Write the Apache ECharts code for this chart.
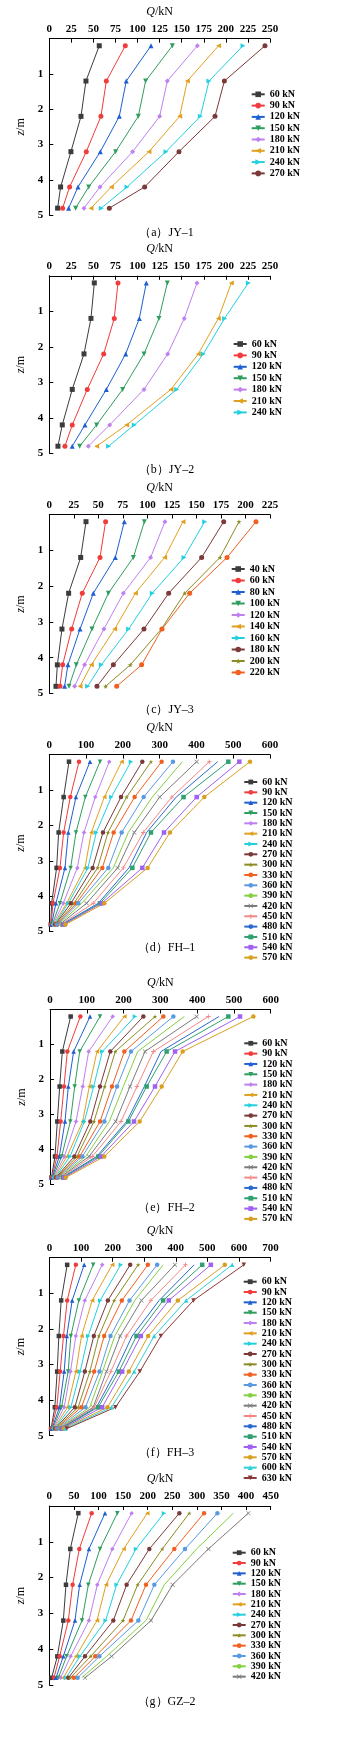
<!DOCTYPE html>
<html><head><meta charset="utf-8">
<script src="https://cdn.jsdelivr.net/npm/echarts@6/dist/echarts.min.js"></script>
<style>html,body{margin:0;padding:0;background:#fff}#c{width:340px;height:1756px}</style>
</head><body><div id="c"></div>
<script>
// depth of measuring points (m)
const depths = [0.2, 1.2, 2.2, 3.2, 4.2, 4.8];

// (a) JY-1
const loadsA = [60, 90, 120, 150, 180, 210, 240, 270];
const valsA = [
  [56.6, 41.5, 35.9, 24.5, 12.8, 9.4],
  [86.1, 64.6, 58.5, 41.9, 23.0, 15.1],
  [115.2, 87.2, 79.3, 57.8, 32.5, 21.9],
  [139.4, 109.1, 100.8, 75.1, 44.6, 29.8],
  [167.7, 133.7, 125.0, 94.4, 57.4, 39.3],
  [191.8, 156.3, 147.7, 112.9, 70.2, 47.2],
  [219.4, 180.9, 171.1, 132.2, 88.0, 58.9],
  [244.3, 198.3, 187.7, 146.9, 108.0, 68.0]
];
// (b) JY-2
const loadsB = [60, 90, 120, 150, 180, 210, 240];
const valsB = [
  [51.0, 47.2, 39.3, 26.0, 14.7, 9.8],
  [77.8, 73.6, 61.6, 43.0, 26.0, 17.7],
  [109.9, 102.0, 86.5, 64.6, 40.4, 26.0],
  [133.7, 124.2, 107.3, 83.1, 53.6, 34.4],
  [167.3, 152.9, 134.1, 107.3, 68.4, 44.2],
  [206.2, 191.5, 168.8, 137.8, 87.6, 53.6],
  [225.5, 198.6, 174.5, 144.3, 96.3, 67.2]
];
// (c) JY-3
const loadsC = [40, 60, 80, 100, 120, 140, 160, 180, 200, 220];
const valsC = [
  [37.4, 32.0, 19.7, 12.9, 8.2, 6.8],
  [57.4, 51.7, 33.6, 22.8, 13.6, 10.9],
  [76.5, 67.3, 44.9, 31.3, 19.0, 15.6],
  [96.9, 85.7, 60.2, 43.5, 27.5, 20.1],
  [117.9, 103.3, 75.5, 55.7, 36.0, 25.8],
  [136.3, 117.6, 87.7, 66.6, 42.8, 31.3],
  [158.4, 137.3, 105.0, 80.9, 53.0, 39.1],
  [177.8, 155.3, 121.7, 96.5, 65.3, 48.6],
  [193.4, 174.0, 138.0, 114.2, 82.6, 57.4],
  [210.7, 181.2, 143.1, 114.9, 94.1, 68.7]
];
// (d) FH-1
const loadsD = [60, 90, 120, 150, 180, 210, 240, 270, 300, 330, 360, 390, 420, 450, 480, 510, 540, 570];
const valsD = [
  [53.5, 39.0, 25.4, 19.9, 6.3, 4],
  [80.7, 57.1, 39.0, 29.0, 10.0, 5],
  [110.6, 72.5, 51.7, 42.6, 18.1, 6],
  [137.8, 97.9, 72.5, 58.0, 29.0, 8],
  [163.0, 125.0, 94.3, 76.1, 38.0, 10],
  [196.7, 149.5, 114.2, 97.0, 47.1, 12],
  [222.0, 168.6, 127.8, 105.1, 51.7, 14],
  [252.9, 194.9, 145.9, 117.8, 58.9, 16],
  [276.4, 210.3, 159.5, 131.4, 67.0, 18],
  [305.4, 232.0, 174.9, 144.1, 73.4, 20],
  [336.2, 256.5, 196.7, 160.4, 78.8, 22],
  [361.6, 280.0, 214.8, 174.0, 88.0, 25],
  [400.6, 300.0, 231.1, 185.8, 101.5, 28],
  [435.0, 333.0, 255.6, 201.2, 119.6, 31],
  [457.7, 345.0, 264.6, 216.6, 133.2, 34],
  [486.7, 365.0, 276.4, 225.7, 137.8, 37],
  [516.6, 400.6, 311.8, 252.9, 142.3, 40],
  [545.6, 421.4, 328.1, 267.4, 149.5, 44]
];
// (e) FH-2
const loadsE = [60, 90, 120, 150, 180, 210, 240, 270, 300, 330, 360, 390, 420, 450, 480, 510, 540, 570];
const valsE = [
  [56.2, 33.5, 26.3, 19.9, 13.6, 4],
  [82.5, 47.1, 38.1, 29.0, 19.0, 5],
  [108.8, 64.3, 49.8, 40.8, 25.4, 6],
  [136.0, 80.7, 67.1, 55.3, 31.7, 8],
  [170.4, 105.1, 88.8, 70.7, 39.0, 10],
  [202.1, 127.8, 106.9, 88.8, 46.2, 12],
  [231.1, 142.3, 118.7, 93.4, 54.4, 14],
  [253.8, 164.0, 135.9, 109.7, 66.2, 16],
  [285.5, 177.6, 148.6, 119.6, 73.4, 18],
  [308.1, 202.1, 168.6, 136.0, 80.7, 20],
  [335.3, 220.2, 182.2, 147.7, 87.9, 22],
  [365.2, 238.4, 199.4, 161.3, 97.0, 24],
  [398.8, 258.3, 217.5, 178.5, 106.0, 27],
  [430.5, 281.0, 236.5, 193.0, 115.1, 30],
  [459.5, 301.8, 256.5, 208.4, 126.9, 33],
  [484.9, 317.2, 262.8, 213.0, 131.4, 36],
  [516.6, 339.9, 285.5, 228.4, 138.7, 39],
  [552.8, 360.7, 303.6, 243.8, 147.7, 43]
];
// (f) FH-3
const loadsF = [60, 90, 120, 150, 180, 210, 240, 270, 300, 330, 360, 390, 420, 450, 480, 510, 540, 570, 600, 630];
const valsF = [
  [56.0, 37.0, 29.6, 24.3, 16.9, 5],
  [83.4, 56.0, 44.3, 33.8, 23.2, 6],
  [109.8, 71.8, 54.9, 46.5, 31.7, 8],
  [138.3, 92.9, 67.6, 59.1, 38.0, 10],
  [166.8, 111.9, 83.4, 66.5, 46.5, 12],
  [198.5, 135.1, 101.4, 83.4, 57.0, 14],
  [225.9, 160.5, 122.5, 97.1, 67.6, 16],
  [255.5, 184.8, 140.4, 111.9, 80.2, 18],
  [280.8, 204.8, 156.3, 127.8, 90.8, 20],
  [311.5, 229.1, 173.1, 141.5, 101.4, 22],
  [341.0, 253.4, 193.2, 158.4, 114.0, 25],
  [360.0, 270.3, 206.9, 167.9, 127.8, 27],
  [397.0, 291.4, 223.8, 180.5, 138.3, 30],
  [430.8, 321.0, 243.9, 194.3, 141.5, 32],
  [458.2, 347.4, 261.8, 209.0, 148.9, 35],
  [483.6, 360.0, 275.6, 219.6, 154.1, 38],
  [511.0, 378.0, 289.3, 230.2, 166.8, 41],
  [555.3, 406.5, 312.5, 251.3, 183.7, 45],
  [578.6, 432.9, 331.5, 268.2, 196.4, 50],
  [615.5, 456.1, 352.6, 286.1, 209.0, 55]
];
// (g) GZ-2
const loadsG = [60, 90, 120, 150, 180, 210, 240, 270, 300, 330, 360, 390, 420];
const valsG = [
  [59.0, 42.7, 33.9, 28.5, 16.3, 4.7],
  [86.1, 61.0, 47.4, 38.6, 21.0, 9.5],
  [113.2, 80.6, 61.7, 52.2, 28.5, 13.6],
  [138.3, 103.0, 79.3, 66.4, 35.2, 18.3],
  [167.4, 128.1, 97.6, 80.6, 43.4, 23.0],
  [199.2, 151.1, 115.2, 96.9, 54.2, 28.5],
  [233.1, 176.2, 136.9, 114.5, 62.3, 33.9],
  [264.3, 203.3, 157.2, 130.1, 72.5, 38.6],
  [284.6, 229.7, 179.6, 149.8, 84.0, 42.7],
  [314.5, 254.1, 196.5, 166.0, 93.5, 50.1],
  [341.6, 275.8, 213.5, 181.0, 101.7, 57.6],
  [374.1, 299.5, 233.8, 196.5, 116.6, 65.7],
  [404.6, 323.3, 250.7, 206.7, 126.7, 72.5]
];

const captions = ['（a）JY–1', '（b）JY–2', '（c）JY–3', '（d）FH–1', '（e）FH–2', '（f）FH–3', '（g）GZ–2'];

// styling (Origin-like increment list)
const COLORS = ['#3c3c3c', '#f03c3c', '#1f5fd2', '#2f9d5e', '#bf80f0', '#e0a020', '#22d0e0', '#7a3a3a', '#8c8c22', '#f06020',
  '#5a9ae0', '#84d040', '#7a7a7a', '#f48888', '#2a6ad0', '#30a070', '#a060f0', '#d8a020', '#30d0d8', '#8a3838'];
const TRI_DOWN = 'path://M0,0L10,0L5,9Z';
const TRI_LEFT = 'path://M9,0L9,10L0,5Z';
const TRI_RIGHT = 'path://M0,0L9,5L0,10Z';
const STAR = 'path://M50,0L61,35L98,35L68,57L79,91L50,70L21,91L32,57L2,35L39,35Z';
const XS = 'path://M0,1L1,0L5,4L9,0L10,1L6,5L10,9L9,10L5,6L1,10L0,9L4,5Z';
const PLUS = 'path://M4,0L6,0L6,4L10,4L10,6L6,6L6,10L4,10L4,6L0,6L0,4L4,4Z';
const BAR = 'path://M4,0L6,0L6,10L4,10Z';
const SYMBOLS = ['rect', 'circle', 'triangle', TRI_DOWN, 'diamond', TRI_LEFT, TRI_RIGHT, 'circle', STAR, 'circle',
  'circle', 'none', XS, PLUS, 'none', BAR, 'rect', 'circle', 'triangle', TRI_DOWN];

const FONT = '"Liberation Serif","Times New Roman",serif';

const panels = [
  {loads: loadsA, vals: valsA, xmax: 250, iv: 25, left: 49.3, width: 220.7, top: 38.7, height: 176.5, lgLeft: 250.7, lgTop: 88.8, lh: 11, gap: 0.3, ih: 7, iw: 13, ss: 5, cap: 227},
  {loads: loadsB, vals: valsB, xmax: 250, iv: 25, left: 49.3, width: 220.7, top: 275.8, height: 177.5, lgLeft: 232.7, lgTop: 338.5, lh: 11, gap: 0.4, ih: 7, iw: 13, ss: 5, cap: 464},
  {loads: loadsC, vals: valsC, xmax: 225, iv: 25, left: 49.3, width: 220.7, top: 514.5, height: 179, lgLeft: 230.7, lgTop: 563.5, lh: 11, gap: 0.5, ih: 7, iw: 13, ss: 5, cap: 704},
  {loads: loadsD, vals: valsD, xmax: 600, iv: 100, left: 49.3, width: 220.7, top: 754.6, height: 177, lgLeft: 243.3, lgTop: 777, lh: 8, gap: 0.33, ih: 6, iw: 13, ss: 4.5, cap: 941.5},
  {loads: loadsE, vals: valsE, xmax: 600, iv: 100, left: 50, width: 220.7, top: 1009.5, height: 175, lgLeft: 243.3, lgTop: 1038.3, lh: 8, gap: 0.33, ih: 6, iw: 13, ss: 4.5, cap: 1201.5},
  {loads: loadsF, vals: valsF, xmax: 700, iv: 100, left: 49.5, width: 221, top: 1257.7, height: 178, lgLeft: 242.7, lgTop: 1276.7, lh: 8, gap: 0.33, ih: 6, iw: 13, ss: 4.5, cap: 1447},
  {loads: loadsG, vals: valsG, xmax: 450, iv: 50, left: 49.3, width: 221.4, top: 1506, height: 179, lgLeft: 231.7, lgTop: 1547.7, lh: 8, gap: 0.33, ih: 6, iw: 13, ss: 4.5, cap: 1695.5}
];

const option = {animation: false, backgroundColor: '#fff', grid: [], xAxis: [], yAxis: [], legend: [], title: [], series: []};
const axisCommon = {
  axisLine: {lineStyle: {color: '#000', width: 1}},
  axisTick: {inside: true, length: 4, lineStyle: {color: '#000'}},
  splitLine: {show: false}
};
const nameStyle = {fontFamily: FONT, fontSize: 12, color: '#000',
  rich: {i: {fontStyle: 'italic', fontFamily: FONT, fontSize: 12, color: '#000'}}};
panels.forEach((p, pi) => {
  const tag = '|' + pi;
  option.grid.push({left: p.left, width: p.width, top: p.top, height: p.height, containLabel: false});
  option.xAxis.push(Object.assign({
    gridIndex: pi, type: 'value', position: 'top', min: 0, max: p.xmax, interval: p.iv,
    name: '{i|Q}/kN', nameLocation: 'middle', nameGap: 21, nameTextStyle: nameStyle,
    axisLabel: {fontFamily: FONT, fontSize: 11, fontWeight: 'bold', color: '#000', margin: 4}
  }, axisCommon));
  option.yAxis.push(Object.assign({
    gridIndex: pi, type: 'value', inverse: true, min: 0, max: 5, interval: 1,
    name: '{i|z}/m', nameLocation: 'middle', nameGap: 18, nameRotate: 90, nameTextStyle: nameStyle,
    axisLabel: {fontFamily: FONT, fontSize: 11, fontWeight: 'bold', color: '#000', margin: 6, formatter: v => (v === 0 ? '' : String(v))}
  }, axisCommon));
  const names = p.loads.map(l => l + ' kN' + tag);
  option.legend.push({
    orient: 'vertical', left: p.lgLeft, top: p.lgTop, padding: 0, itemGap: p.gap,
    itemWidth: p.iw, itemHeight: p.ih, data: names,
    formatter: n => n.split('|')[0],
    textStyle: {fontFamily: FONT, fontSize: 10, fontWeight: 'bold', color: '#000', lineHeight: p.lh}
  });
  option.title.push({text: captions[pi], left: 166.5, top: p.cap, textAlign: 'center', padding: 0,
    textStyle: {fontFamily: FONT, fontSize: 12, fontWeight: 'normal', color: '#000'}});
  p.loads.forEach((l, si) => {
    option.series.push({
      type: 'line', name: names[si], xAxisIndex: pi, yAxisIndex: pi,
      data: p.vals[si].map((v, k) => [v, depths[k]]),
      symbol: SYMBOLS[si], symbolSize: p.ss,
      itemStyle: {color: COLORS[si]},
      lineStyle: {color: COLORS[si], width: 1},
      showSymbol: true
    });
  });
});

const chart = echarts.init(document.getElementById('c'), null, {renderer: 'canvas', devicePixelRatio: 1});
chart.setOption(option);
</script>
</body></html>
